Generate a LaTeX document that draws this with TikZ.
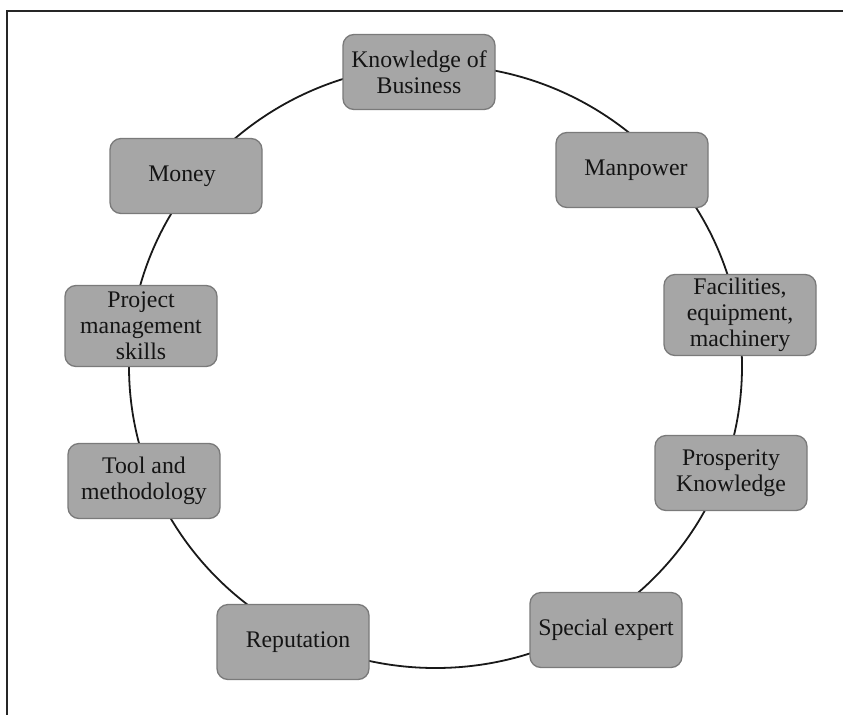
\documentclass[tikz,border=0pt]{standalone}
\usepackage{fontspec}
\setmainfont{Liberation Serif}
\usetikzlibrary{shapes.geometric}
\definecolor{boxfill}{RGB}{166,166,166}
\definecolor{boxline}{RGB}{122,122,122}
\definecolor{inktext}{RGB}{20,20,20}
\begin{document}
\begin{tikzpicture}[x=1pt,y=-1pt,
  resource/.style={draw=boxline, line width=1.3pt, fill=boxfill,
    rounded corners=11pt, minimum width=152pt, minimum height=75pt,
    inner sep=2pt, align=center, text=inktext,
    font=\fontsize{23.8}{26}\selectfont},
  tall/.style={minimum height=81pt},
  ring/.style={draw=black!90, line width=1.8pt, ellipse, inner sep=0pt,
    minimum width=613pt, minimum height=603pt}]
\useasboundingbox (0,0) rectangle (843,715);

% frame
\draw[line width=2pt, black!85] (843,11) -- (7,11) -- (7,715);

% the ring linking all resources
\node[ring] (cycle) at (435.5,366.5) {};

% resources around the ring
\node[resource] (kb) at (419,72) {Knowledge of\\Business};
\node[resource] (mp) at (632,170) {\hspace*{8pt}Manpower};
\node[resource, tall] (fe) at (740,315) {Facilities,\\equipment,\\machinery};
\node[resource] (pk) at (731,473) {Prosperity\\Knowledge};
\node[resource] (se) at (606,630) {Special expert};
\node[resource] (rp) at (293,642) {\hspace*{10pt}Reputation};
\node[resource] (tm) at (144,481) {Tool and\\methodology};
\node[resource, tall] (pm) at (141,326) {Project\\management\\skills};
\node[resource] (mo) at (186,176) {Money\hspace*{8pt}};
\end{tikzpicture}
\end{document}
